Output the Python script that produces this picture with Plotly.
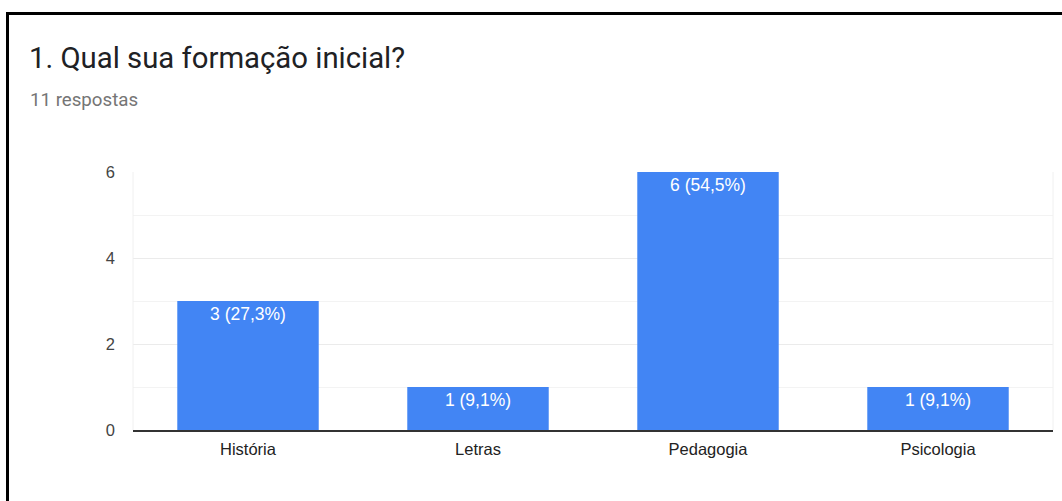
import plotly.graph_objects as go

categories = ["História", "Letras", "Pedagogia", "Psicologia"]
counts = [3, 1, 6, 1]
labels = ["3 (27,3%)", "1 (9,1%)", "6 (54,5%)", "1 (9,1%)"]
y_ticks = [0, 2, 4, 6]

W, H = 1062, 501
L, R, T, B = 133, 9, 172, 71
pw, ph = W - L - R, H - T - B

def px(x):
    return (x - L) / pw

def py(y):
    return (H - B - y) / ph

ARIAL = "Arial, Liberation Sans, sans-serif"
ROBOTO = "Roboto, Arial, sans-serif"

fig = go.Figure(go.Bar(
    x=categories, y=counts, text=labels,
    textposition="inside", insidetextanchor="end",
    textfont=dict(color="white", size=17.5, family=ARIAL),
    marker=dict(color="#4285F4", line=dict(width=0)),
    width=0.615, cliponaxis=False,
))

fig.update_layout(
    width=W, height=H,
    margin=dict(l=L, r=R, t=T, b=B),
    paper_bgcolor="white", plot_bgcolor="white",
    showlegend=False,
    font=dict(family=ARIAL, color="#444"),
    uniformtext=dict(minsize=17, mode="show"),
)
fig.update_xaxes(
    showgrid=False, showline=True, linecolor="#333", linewidth=1.5,
    tickfont=dict(size=16.5, color="#222", family=ARIAL), ticks="",
    ticklabelstandoff=3, range=[-0.5, 3.5],
)
fig.update_yaxes(
    range=[0, 6], tickvals=y_ticks, showgrid=True, gridcolor="#ebebeb",
    zeroline=False, showline=False, ticks="", ticklabelstandoff=17,
    tickfont=dict(size=16.5, color="#444", family=ARIAL),
    minor=dict(dtick=1, showgrid=True, gridcolor="#f3f3f3"),
)
fig.add_shape(type="line", xref="paper", yref="paper", x0=0, x1=0, y0=0, y1=1,
              line=dict(color="#f0f0f0", width=1))
fig.add_shape(type="line", xref="paper", yref="paper", x0=1, x1=1, y0=0, y1=1,
              line=dict(color="#f0f0f0", width=1))

# black frame (top and left)
fig.add_shape(type="line", xref="paper", yref="paper",
              x0=px(6), x1=px(1070), y0=py(13.5), y1=py(13.5),
              line=dict(color="black", width=3))
fig.add_shape(type="line", xref="paper", yref="paper",
              x0=px(7.5), x1=px(7.5), y0=py(12), y1=py(510),
              line=dict(color="black", width=3))

fig.add_annotation(text="1. Qual sua formação inicial?", xref="paper", yref="paper",
                   x=px(27), y=py(58), xanchor="left", yanchor="middle", showarrow=False,
                   font=dict(size=29.3, color="#202124", family=ROBOTO))
fig.add_annotation(text="11 respostas", xref="paper", yref="paper",
                   x=px(28), y=py(100), xanchor="left", yanchor="middle", showarrow=False,
                   font=dict(size=18.7, color="#757575", family=ROBOTO))

fig.write_html("out.html", config={"displayModeBar": False},
               post_script="document.body.style.margin='0';document.body.style.padding='0';")
